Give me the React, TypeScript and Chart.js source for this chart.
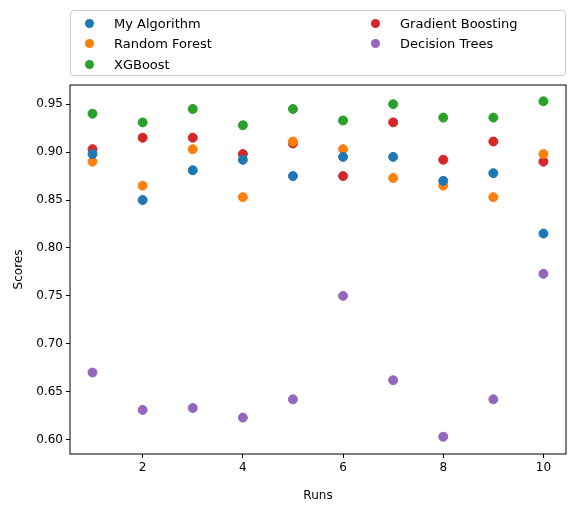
import { useEffect, useRef } from "react"
import { Chart, registerables } from "chart.js"

Chart.register(...registerables)

const runs = [1, 2, 3, 4, 5, 6, 7, 8, 9, 10]
const myAlgorithm = [0.898, 0.85, 0.881, 0.892, 0.875, 0.895, 0.895, 0.87, 0.878, 0.815]
const randomForest = [0.89, 0.865, 0.903, 0.853, 0.911, 0.903, 0.873, 0.865, 0.853, 0.898]
const xgboost = [0.94, 0.931, 0.945, 0.928, 0.945, 0.933, 0.95, 0.936, 0.936, 0.953]
const gradientBoosting = [0.903, 0.915, 0.915, 0.898, 0.909, 0.875, 0.931, 0.892, 0.911, 0.89]
const decisionTrees = [0.67, 0.631, 0.633, 0.623, 0.642, 0.75, 0.662, 0.603, 0.642, 0.773]
const xTicks = [2, 4, 6, 8, 10]
const yTicks = [0.6, 0.65, 0.7, 0.75, 0.8, 0.85, 0.9, 0.95]

const series = [
  { label: "My Algorithm", data: myAlgorithm, color: "#1f77b4" },
  { label: "Random Forest", data: randomForest, color: "#ff7f0e" },
  { label: "XGBoost", data: xgboost, color: "#2ca02c" },
  { label: "Gradient Boosting", data: gradientBoosting, color: "#d62728" },
  { label: "Decision Trees", data: decisionTrees, color: "#9467bd" },
]

const FONT = "'DejaVu Sans', sans-serif"

const frame = {
  id: "frame",
  afterDraw(c: any) {
    const { left, top, width, height } = c.chartArea
    const ctx = c.ctx
    ctx.save()
    ctx.strokeStyle = "#000"
    ctx.lineWidth = 1
    ctx.strokeRect(left, top, width, height)
    ctx.restore()
  },
}

const tickGrid = { drawOnChartArea: false, drawTicks: true, tickLength: 4, color: "#000" }

export default function App() {
  const canvasRef = useRef<HTMLCanvasElement | null>(null)

  useEffect(() => {
    if (!canvasRef.current) return
    const chart = new Chart(canvasRef.current, {
      type: "scatter",
      data: {
        datasets: series.map((s) => ({
          label: s.label,
          data: runs.map((r, i) => ({ x: r, y: s.data[i] })),
          backgroundColor: s.color,
          borderColor: s.color,
          pointRadius: 4.5,
        })),
      },
      options: {
        animation: false,
        responsive: false,
        layout: { padding: { top: 85, right: 10, left: 8, bottom: 0 } },
        plugins: { legend: { display: false }, tooltip: { enabled: false } },
        scales: {
          x: {
            min: 0.55,
            max: 10.45,
            grid: tickGrid,
            border: { display: false },
            afterBuildTicks: (a: any) => {
              a.ticks = xTicks.map((v) => ({ value: v }))
            },
            afterFit: (a: any) => {
              a.height = 53
            },
            ticks: { color: "#000", font: { family: FONT, size: 12 }, maxRotation: 0 },
            title: { display: true, text: "Runs", color: "#000", font: { family: FONT, size: 12 } },
          },
          y: {
            min: 0.585,
            max: 0.97,
            grid: tickGrid,
            border: { display: false },
            afterBuildTicks: (a: any) => {
              a.ticks = yTicks.map((v) => ({ value: v }))
            },
            afterFit: (a: any) => {
              a.width = 62
            },
            ticks: {
              color: "#000",
              font: { family: FONT, size: 12 },
              callback: (v: any) => Number(v).toFixed(2),
            },
            title: { display: true, text: "Scores", color: "#000", font: { family: FONT, size: 12 } },
          },
        },
      },
      plugins: [frame],
    })
    return () => chart.destroy()
  }, [])

  const rows = [
    [series[0], series[3]],
    [series[1], series[4]],
    [series[2], null],
  ]

  return (
    <div style={{ position: "relative", width: 576, height: 507, margin: -8, background: "#fff" }}>
      <canvas ref={canvasRef} width={576} height={507} style={{ display: "block" }} />
      <div
        style={{
          position: "absolute",
          left: 70,
          top: 10,
          width: 494,
          height: 64,
          border: "1px solid #ccc",
          borderRadius: 4,
          fontFamily: FONT,
          fontSize: 13,
          background: "rgba(255,255,255,0.8)",
        }}
      >
        {rows.map((row, ri) =>
          row.map((s, ci) =>
            s ? (
              <div
                key={s.label}
                style={{
                  position: "absolute",
                  left: ci === 0 ? 14 : 300,
                  top: 3 + ri * 20.5,
                  display: "flex",
                  alignItems: "center",
                  height: 18,
                }}
              >
                <span
                  style={{
                    width: 9,
                    height: 9,
                    borderRadius: "50%",
                    background: s.color,
                    display: "inline-block",
                    marginRight: 20,
                  }}
                />
                {s.label}
              </div>
            ) : null
          )
        )}
      </div>
    </div>
  )
}
